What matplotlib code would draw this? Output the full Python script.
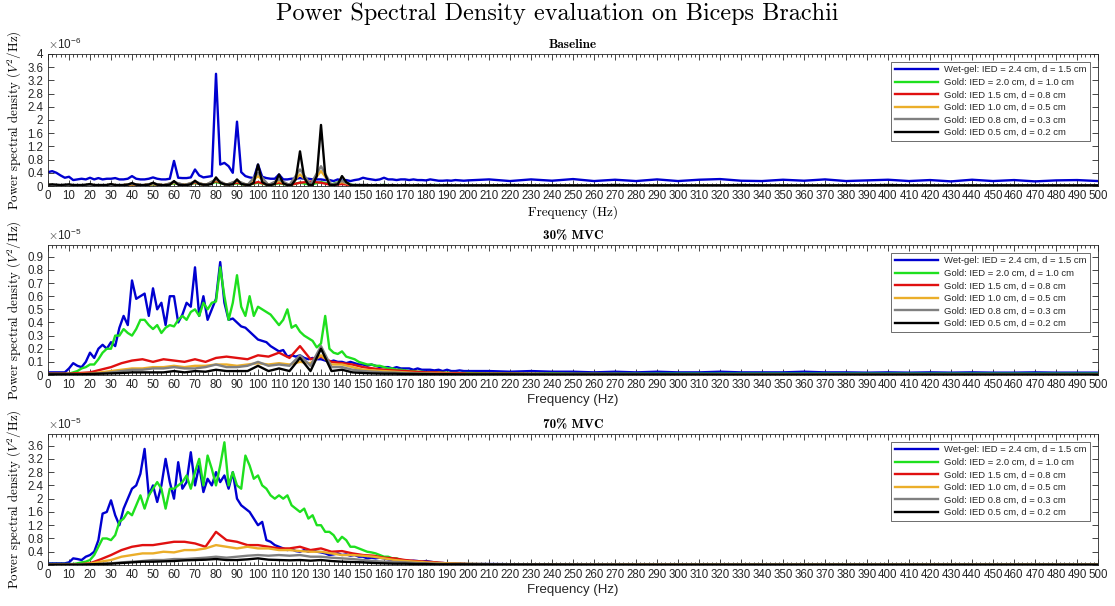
import numpy as np
import matplotlib
matplotlib.use("Agg")
import matplotlib.pyplot as plt
from matplotlib.ticker import MultipleLocator, FixedLocator, FuncFormatter

plt.rcParams['mathtext.fontset'] = 'cm'
plt.rcParams['font.family'] = ['Liberation Sans', 'DejaVu Sans']

# ---------------- frequency grids (Hz) ----------------
F_FINE = np.concatenate([np.arange(0, 201, 2), np.arange(210, 501, 10)])
F_SPARSE = np.concatenate([np.arange(0, 201, 5), np.arange(220, 501, 20)])

LABELS = ["Wet-gel: IED = 2.4 cm, d = 1.5 cm",
          "Gold: IED = 2.0 cm, d = 1.0 cm",
          "Gold: IED 1.5 cm, d = 0.8 cm",
          "Gold: IED 1.0 cm, d = 0.5 cm",
          "Gold: IED 0.8 cm, d = 0.3 cm",
          "Gold: IED 0.5 cm, d = 0.2 cm"]
COLORS = ["#0000D0", "#1EE01E", "#E01010", "#EBAE2A", "#808080", "#000000"]

PANEL_TITLES = ["Baseline", "30% MVC", "70% MVC"]
PANEL_EXP = [-6, -5, -5]
YTICKS = [[0, 0.4, 0.8, 1.2, 1.6, 2, 2.4, 2.8, 3.2, 3.6, 4],
          [0, 0.1, 0.2, 0.3, 0.4, 0.5, 0.6, 0.7, 0.8, 0.9],
          [0, 0.4, 0.8, 1.2, 1.6, 2, 2.4, 2.8, 3.2, 3.6]]
YLIMS = [4.0, 0.99, 3.95]

# ---------------- Baseline (x1e-6) ----------------
base_wetgel = [0.42, 0.45, 0.4, 0.32, 0.25, 0.28, 0.18, 0.2, 0.22, 0.2,
               0.25, 0.2, 0.24, 0.2, 0.22, 0.22, 0.24, 0.2, 0.2, 0.22,
               0.3, 0.22, 0.2, 0.2, 0.22, 0.26, 0.22, 0.2, 0.2, 0.22,
               0.76, 0.25, 0.24, 0.24, 0.26, 0.5, 0.32, 0.26, 0.28, 0.3,
               3.4, 0.65, 0.7, 0.6, 0.4, 1.95, 0.42, 0.3, 0.26, 0.24,
               0.65, 0.28, 0.24, 0.22, 0.22, 0.35, 0.2, 0.2, 0.22, 0.22,
               0.24, 0.22, 0.22, 0.2, 0.2, 0.2, 0.18, 0.18, 0.15, 0.2,
               0.16, 0.18, 0.15, 0.18, 0.2, 0.25, 0.22, 0.2, 0.18, 0.2,
               0.25, 0.2, 0.2, 0.18, 0.2, 0.2, 0.18, 0.2, 0.18, 0.18,
               0.17, 0.2, 0.18, 0.16, 0.16, 0.17, 0.16, 0.18, 0.17, 0.16,
               0.17,
               0.2, 0.15, 0.2, 0.16, 0.21, 0.15, 0.19, 0.15, 0.2, 0.15,
               0.19, 0.21, 0.16, 0.15, 0.19, 0.16, 0.2, 0.15, 0.17, 0.19,
               0.15, 0.18, 0.14, 0.19, 0.15, 0.18, 0.14, 0.17, 0.18, 0.15]
base_g20 = [0.03, 0.02, 0.02, 0.02, 0.03, 0.02, 0.03, 0.02, 0.04, 0.02,
            0.05, 0.02, 0.08, 0.03, 0.09, 0.03, 0.12, 0.04, 0.08, 0.03,
            0.1, 0.03, 0.08, 0.03, 0.1, 0.04, 0.12, 0.05, 0.15, 0.03,
            0.02, 0.02, 0.03, 0.02, 0.02, 0.02, 0.02, 0.03, 0.02, 0.02,
            0.02,
            0.02, 0.02, 0.02, 0.02, 0.02, 0.02, 0.02, 0.02, 0.02, 0.02,
            0.02, 0.02, 0.02, 0.02, 0.02]
base_g15 = [0.03, 0.02, 0.02, 0.02, 0.03, 0.02, 0.03, 0.02, 0.05, 0.02,
            0.06, 0.02, 0.1, 0.03, 0.1, 0.03, 0.15, 0.04, 0.1, 0.03,
            0.12, 0.03, 0.1, 0.03, 0.1, 0.13, 0.1, 0.03, 0.06, 0.02,
            0.02, 0.02, 0.02, 0.02, 0.02, 0.02, 0.02, 0.02, 0.02, 0.02,
            0.02,
            0.02, 0.02, 0.02, 0.02, 0.02, 0.02, 0.02, 0.02, 0.02, 0.02,
            0.02, 0.02, 0.02, 0.02, 0.02]
base_g10 = [0.03, 0.02, 0.02, 0.02, 0.03, 0.02, 0.03, 0.02, 0.06, 0.02,
            0.07, 0.02, 0.1, 0.03, 0.12, 0.03, 0.18, 0.04, 0.14, 0.03,
            0.3, 0.03, 0.15, 0.03, 0.35, 0.05, 0.45, 0.03, 0.12, 0.02,
            0.02, 0.02, 0.02, 0.02, 0.02, 0.02, 0.02, 0.02, 0.02, 0.02,
            0.02,
            0.02, 0.02, 0.02, 0.02, 0.02, 0.02, 0.02, 0.02, 0.02, 0.02,
            0.02, 0.02, 0.02, 0.02, 0.02]
base_g08 = [0.03, 0.02, 0.02, 0.02, 0.03, 0.02, 0.03, 0.02, 0.07, 0.02,
            0.08, 0.02, 0.12, 0.03, 0.13, 0.03, 0.2, 0.04, 0.16, 0.03,
            0.4, 0.03, 0.2, 0.03, 0.5, 0.05, 0.6, 0.03, 0.15, 0.02,
            0.02, 0.02, 0.02, 0.02, 0.02, 0.02, 0.02, 0.02, 0.02, 0.02,
            0.02,
            0.02, 0.02, 0.02, 0.02, 0.02, 0.02, 0.02, 0.02, 0.02, 0.02,
            0.02, 0.02, 0.02, 0.02, 0.02]
base_g05 = [0.04, 0.05, 0.04, 0.03, 0.04, 0.05, 0.03, 0.03, 0.03, 0.04,
            0.06, 0.03, 0.03, 0.03, 0.03, 0.06, 0.03, 0.03, 0.03, 0.04,
            0.09, 0.04, 0.03, 0.03, 0.04, 0.1, 0.04, 0.03, 0.03, 0.04,
            0.15, 0.04, 0.03, 0.03, 0.05, 0.16, 0.06, 0.04, 0.04, 0.06,
            0.26, 0.1, 0.05, 0.04, 0.05, 0.2, 0.06, 0.04, 0.03, 0.1,
            0.65, 0.12, 0.04, 0.03, 0.06, 0.35, 0.08, 0.03, 0.03, 0.2,
            1.05, 0.25, 0.04, 0.03, 0.3, 1.85, 0.35, 0.04, 0.03, 0.05,
            0.3, 0.12, 0.03, 0.03, 0.03, 0.03, 0.03, 0.02, 0.03, 0.02,
            0.03, 0.02, 0.03, 0.02, 0.02, 0.03, 0.02, 0.02, 0.03, 0.02,
            0.02, 0.03, 0.02, 0.02, 0.02, 0.03, 0.02, 0.02, 0.02, 0.02,
            0.02,
            0.02, 0.03, 0.02, 0.02, 0.02, 0.02, 0.03, 0.02, 0.02, 0.02,
            0.02, 0.02, 0.03, 0.02, 0.02, 0.02, 0.02, 0.02, 0.02, 0.03,
            0.02, 0.02, 0.02, 0.02, 0.02, 0.02, 0.02, 0.02, 0.02, 0.02]

# ---------------- 30% MVC (x1e-5) ----------------
mvc30_wetgel = [0.02, 0.02, 0.02, 0.02, 0.02, 0.05, 0.09, 0.07, 0.06, 0.1,
                0.17, 0.13, 0.2, 0.23, 0.2, 0.25, 0.22, 0.36, 0.45, 0.38,
                0.72, 0.58, 0.6, 0.62, 0.45, 0.66, 0.5, 0.55, 0.38, 0.6,
                0.6, 0.4, 0.46, 0.55, 0.52, 0.82, 0.45, 0.6, 0.42, 0.5,
                0.58, 0.86, 0.55, 0.42, 0.43, 0.4, 0.37, 0.36, 0.33, 0.3,
                0.27, 0.26, 0.25, 0.22, 0.2, 0.18, 0.19, 0.14, 0.15, 0.14,
                0.15, 0.13, 0.12, 0.13, 0.12, 0.12, 0.11, 0.1, 0.11, 0.1,
                0.1, 0.09, 0.1, 0.09, 0.08, 0.08, 0.07, 0.08, 0.07, 0.06,
                0.06, 0.06, 0.05, 0.06, 0.05, 0.05, 0.05, 0.04, 0.05, 0.04,
                0.04, 0.04, 0.035, 0.04, 0.03, 0.04, 0.03, 0.03, 0.035, 0.03,
                0.03,
                0.03, 0.025, 0.03, 0.025, 0.025, 0.02, 0.025, 0.02, 0.025, 0.02,
                0.02, 0.025, 0.02, 0.02, 0.02, 0.025, 0.02, 0.02, 0.018, 0.02,
                0.018, 0.02, 0.018, 0.02, 0.018, 0.018, 0.02, 0.018, 0.018, 0.018]
mvc30_g20 = [0.01, 0.01, 0.01, 0.01, 0.01, 0.01, 0.02, 0.03, 0.05, 0.06,
             0.08, 0.08, 0.12, 0.17, 0.2, 0.2, 0.3, 0.3, 0.35, 0.32,
             0.3, 0.35, 0.42, 0.42, 0.38, 0.35, 0.38, 0.32, 0.36, 0.38,
             0.37, 0.42, 0.45, 0.42, 0.48, 0.5, 0.45, 0.55, 0.5, 0.55,
             0.56, 0.82, 0.6, 0.42, 0.55, 0.76, 0.52, 0.45, 0.6, 0.45,
             0.52, 0.5, 0.48, 0.46, 0.42, 0.38, 0.42, 0.5, 0.36, 0.38,
             0.33, 0.3, 0.28, 0.26, 0.21, 0.24, 0.45, 0.2, 0.17, 0.16,
             0.18, 0.14, 0.13, 0.12, 0.1, 0.09, 0.08, 0.08, 0.07, 0.07,
             0.06, 0.05, 0.05, 0.04, 0.04, 0.035, 0.03, 0.03, 0.025, 0.025,
             0.02, 0.02, 0.02, 0.02, 0.018, 0.018, 0.015, 0.015, 0.015, 0.015,
             0.015,
             0.012, 0.012, 0.01, 0.012, 0.01, 0.01, 0.01, 0.01, 0.01, 0.01,
             0.01, 0.01, 0.01, 0.01, 0.01, 0.01, 0.01, 0.01, 0.01, 0.01,
             0.01, 0.01, 0.01, 0.01, 0.01, 0.01, 0.01, 0.01, 0.01, 0.01]
mvc30_g15 = [0.01, 0.01, 0.01, 0.015, 0.02, 0.04, 0.06, 0.09, 0.11, 0.12,
             0.1, 0.12, 0.11, 0.1, 0.12, 0.1, 0.13, 0.14, 0.13, 0.12,
             0.15, 0.14, 0.17, 0.13, 0.22, 0.12, 0.14, 0.1, 0.09, 0.08,
             0.06, 0.05, 0.04, 0.035, 0.03, 0.025, 0.02, 0.02, 0.015, 0.015,
             0.01,
             0.01, 0.008, 0.008, 0.007, 0.006, 0.006, 0.005, 0.005, 0.005, 0.004,
             0.004, 0.004, 0.004, 0.003, 0.003]
mvc30_g10 = [0.005, 0.005, 0.005, 0.008, 0.01, 0.02, 0.03, 0.04, 0.05, 0.05,
             0.06, 0.06, 0.07, 0.06, 0.07, 0.07, 0.08, 0.08, 0.07, 0.08,
             0.09, 0.08, 0.09, 0.08, 0.1, 0.09, 0.15, 0.08, 0.08, 0.06,
             0.04, 0.035, 0.03, 0.025, 0.02, 0.015, 0.012, 0.01, 0.01, 0.008,
             0.007,
             0.005, 0.005, 0.005, 0.004, 0.004, 0.004, 0.004, 0.003, 0.003, 0.003,
             0.003, 0.003, 0.003, 0.003, 0.003]
mvc30_g08 = [0.005, 0.005, 0.005, 0.006, 0.008, 0.012, 0.02, 0.03, 0.04, 0.04,
             0.05, 0.05, 0.06, 0.05, 0.05, 0.06, 0.08, 0.06, 0.06, 0.07,
             0.1, 0.07, 0.08, 0.07, 0.15, 0.07, 0.22, 0.06, 0.06, 0.04,
             0.03, 0.025, 0.02, 0.018, 0.015, 0.012, 0.01, 0.008, 0.007, 0.006,
             0.005,
             0.005, 0.004, 0.004, 0.004, 0.003, 0.003, 0.003, 0.003, 0.003, 0.003,
             0.003, 0.003, 0.003, 0.003, 0.003]
mvc30_g05 = [0.005, 0.005, 0.005, 0.005, 0.008, 0.01, 0.012, 0.015, 0.02, 0.02,
             0.02, 0.02, 0.03, 0.02, 0.03, 0.025, 0.04, 0.03, 0.03, 0.03,
             0.07, 0.03, 0.05, 0.03, 0.13, 0.03, 0.2, 0.03, 0.04, 0.02,
             0.015, 0.012, 0.01, 0.01, 0.008, 0.008, 0.007, 0.006, 0.006, 0.005,
             0.005,
             0.005, 0.004, 0.004, 0.004, 0.004, 0.003, 0.003, 0.003, 0.003, 0.003,
             0.003, 0.003, 0.003, 0.003, 0.003]

# ---------------- 70% MVC (x1e-5) ----------------
mvc70_wetgel = [0.05, 0.05, 0.05, 0.05, 0.05, 0.08, 0.2, 0.18, 0.15, 0.25,
                0.3, 0.4, 0.75, 1.55, 1.6, 1.95, 1.5, 1.2, 1.7, 2.0,
                2.3, 2.4, 2.75, 3.5, 2.1, 2.4, 1.9, 2.4, 3.2, 2.5,
                2.0, 3.1, 2.3, 2.5, 3.4, 2.4, 3.0, 2.2, 2.6, 2.4,
                2.8, 2.5, 2.7, 2.3, 2.8, 2.0, 1.8, 1.7, 1.6, 1.4,
                1.2, 1.3, 0.75, 0.7, 0.6, 0.55, 0.5, 0.45, 0.48, 0.42,
                0.4, 0.45, 0.4, 0.45, 0.4, 0.38, 0.35, 0.3, 0.32, 0.35,
                0.3, 0.32, 0.28, 0.3, 0.25, 0.25, 0.2, 0.22, 0.2, 0.22,
                0.2, 0.17, 0.15, 0.18, 0.15, 0.14, 0.12, 0.13, 0.12, 0.1,
                0.12, 0.1, 0.08, 0.06, 0.06, 0.05, 0.05, 0.04, 0.04, 0.035,
                0.03,
                0.03, 0.025, 0.025, 0.02, 0.025, 0.02, 0.02, 0.02, 0.02, 0.02,
                0.02, 0.02, 0.02, 0.02, 0.02, 0.02, 0.02, 0.02, 0.02, 0.02,
                0.02, 0.02, 0.02, 0.02, 0.02, 0.02, 0.02, 0.02, 0.02, 0.02]
mvc70_g20 = [0.03, 0.03, 0.03, 0.03, 0.03, 0.03, 0.03, 0.05, 0.08, 0.1,
             0.15, 0.3, 0.55, 0.8, 0.8, 0.75, 0.9, 1.3, 1.4, 1.6,
             1.5, 1.8, 2.1, 1.7, 2.1, 2.3, 2.5, 2.3, 1.7, 2.3,
             2.3, 2.4, 2.5, 2.7, 2.3, 2.8, 3.2, 2.4, 3.3, 2.9,
             2.4, 3.0, 3.7, 2.4, 2.8, 2.4, 2.3, 3.3, 3.0, 2.6,
             2.7, 2.4, 2.3, 2.1, 2.0, 2.1, 2.0, 2.1, 1.8, 1.7,
             1.6, 1.7, 1.4, 1.5, 1.2, 1.2, 1.0, 1.0, 0.9, 0.7,
             0.85, 0.75, 0.55, 0.55, 0.5, 0.45, 0.4, 0.38, 0.35, 0.3,
             0.25, 0.25, 0.2, 0.2, 0.15, 0.12, 0.12, 0.1, 0.1, 0.09,
             0.08, 0.07, 0.07, 0.06, 0.05, 0.05, 0.04, 0.04, 0.035, 0.03,
             0.03,
             0.025, 0.02, 0.02, 0.02, 0.02, 0.02, 0.02, 0.02, 0.02, 0.02,
             0.02, 0.02, 0.02, 0.02, 0.02, 0.02, 0.02, 0.02, 0.02, 0.02,
             0.02, 0.02, 0.02, 0.02, 0.02, 0.02, 0.02, 0.02, 0.02, 0.02]
mvc70_g15 = [0.02, 0.02, 0.02, 0.02, 0.05, 0.17, 0.3, 0.45, 0.55, 0.6,
             0.6, 0.65, 0.7, 0.7, 0.65, 0.55, 1.0, 0.75, 0.7, 0.6,
             0.6, 0.55, 0.5, 0.5, 0.55, 0.45, 0.5, 0.4, 0.42, 0.35,
             0.3, 0.28, 0.22, 0.2, 0.15, 0.12, 0.1, 0.08, 0.05, 0.04,
             0.03,
             0.02, 0.02, 0.015, 0.015, 0.012, 0.01, 0.01, 0.01, 0.01, 0.01,
             0.01, 0.01, 0.01, 0.01, 0.01]
mvc70_g10 = [0.01, 0.01, 0.01, 0.02, 0.04, 0.1, 0.15, 0.25, 0.3, 0.35,
             0.35, 0.4, 0.38, 0.45, 0.45, 0.5, 0.6, 0.55, 0.5, 0.55,
             0.5, 0.5, 0.45, 0.45, 0.42, 0.4, 0.4, 0.35, 0.3, 0.3,
             0.28, 0.25, 0.2, 0.15, 0.12, 0.1, 0.08, 0.06, 0.05, 0.04,
             0.03,
             0.02, 0.02, 0.015, 0.015, 0.012, 0.01, 0.01, 0.01, 0.01, 0.01,
             0.01, 0.01, 0.01, 0.01, 0.01]
mvc70_g08 = [0.01, 0.01, 0.01, 0.01, 0.02, 0.03, 0.05, 0.08, 0.1, 0.12,
             0.15, 0.15, 0.18, 0.18, 0.2, 0.22, 0.25, 0.22, 0.25, 0.28,
             0.3, 0.28, 0.3, 0.28, 0.3, 0.25, 0.25, 0.22, 0.2, 0.18,
             0.15, 0.12, 0.1, 0.09, 0.08, 0.06, 0.05, 0.04, 0.03, 0.03,
             0.02,
             0.02, 0.015, 0.015, 0.01, 0.01, 0.01, 0.01, 0.01, 0.01, 0.01,
             0.01, 0.01, 0.01, 0.01, 0.01]
mvc70_g05 = [0.01, 0.01, 0.01, 0.01, 0.02, 0.03, 0.04, 0.06, 0.08, 0.1,
             0.1, 0.11, 0.12, 0.14, 0.15, 0.16, 0.18, 0.15, 0.15, 0.17,
             0.2, 0.16, 0.15, 0.14, 0.15, 0.13, 0.15, 0.12, 0.1, 0.09,
             0.08, 0.06, 0.05, 0.04, 0.04, 0.03, 0.03, 0.02, 0.02, 0.02,
             0.02,
             0.015, 0.015, 0.01, 0.01, 0.01, 0.01, 0.01, 0.01, 0.01, 0.01,
             0.01, 0.01, 0.01, 0.01, 0.01]

PANELS = [
    [(F_FINE, base_wetgel), (F_SPARSE, base_g20), (F_SPARSE, base_g15),
     (F_SPARSE, base_g10), (F_SPARSE, base_g08), (F_FINE, base_g05)],
    [(F_FINE, mvc30_wetgel), (F_FINE, mvc30_g20), (F_SPARSE, mvc30_g15),
     (F_SPARSE, mvc30_g10), (F_SPARSE, mvc30_g08), (F_SPARSE, mvc30_g05)],
    [(F_FINE, mvc70_wetgel), (F_FINE, mvc70_g20), (F_SPARSE, mvc70_g15),
     (F_SPARSE, mvc70_g10), (F_SPARSE, mvc70_g08), (F_SPARSE, mvc70_g05)],
]

# ---------------- figure ----------------
W, H = 1115, 606
fig = plt.figure(figsize=(W / 100, H / 100), dpi=100)
fig.patch.set_facecolor('white')

axes_px = [(48, 54, 1098, 186), (48, 245, 1098, 375), (48, 434, 1098, 565)]
TXT = '#262626'

fig.text(0.5, 1 - 14 / H, "Power Spectral Density evaluation on Biceps Brachii",
         ha='center', va='center', fontsize=17.5, family='cmr10')

for i, (l, t, r, b) in enumerate(axes_px):
    ax = fig.add_axes([l / W, 1 - b / H, (r - l) / W, (b - t) / H])
    for (fx, vals), c, lab in zip(PANELS[i], COLORS, LABELS):
        ax.plot(fx, vals, color=c, lw=1.7, label=lab, solid_joinstyle='round')
    ax.set_xlim(0, 500)
    ax.set_ylim(0, YLIMS[i])
    ax.xaxis.set_major_locator(MultipleLocator(10))
    ax.xaxis.set_minor_locator(MultipleLocator(2))
    ax.yaxis.set_major_locator(FixedLocator(YTICKS[i]))
    ax.yaxis.set_major_formatter(FuncFormatter(lambda v, p: ('%g' % round(v, 3))))
    ax.tick_params(which='both', direction='in', top=True, right=True,
                   colors=TXT, labelsize=8.3, width=0.6)
    ax.tick_params(which='major', length=4)
    ax.tick_params(which='minor', length=2)
    ax.tick_params(axis='x', pad=3)
    for sp in ax.spines.values():
        sp.set_color(TXT)
        sp.set_linewidth(0.6)
    ax.set_title(PANEL_TITLES[i], fontsize=9.5, family='cmb10', pad=4)
    ax.text(0.0, 1.012, r'$\times\mathregular{10^{%d}}$' % PANEL_EXP[i],
            transform=ax.transAxes, fontsize=8.5, color=TXT, ha='left', va='bottom')
    ax.set_ylabel(r"Power spectral density ($V^2$/Hz)", family='cmr10',
                  fontsize=9.3, labelpad=2)
    if i == 0:
        ax.set_xlabel("Frequency (Hz)", family='cmr10', fontsize=9.5, labelpad=2)
    else:
        ax.set_xlabel("Frequency (Hz)", fontsize=9.5, color=TXT, labelpad=2)
    leg = ax.legend(loc='upper right', fontsize=6.8, frameon=True, fancybox=False,
                    edgecolor='#555555', framealpha=1, borderaxespad=0.8,
                    handlelength=4.6, labelspacing=0.38, borderpad=0.4,
                    handletextpad=0.6)
    leg.get_frame().set_linewidth(0.6)
    for txt in leg.get_texts():
        txt.set_color(TXT)

fig.savefig("out.png", dpi=100, facecolor='white')
